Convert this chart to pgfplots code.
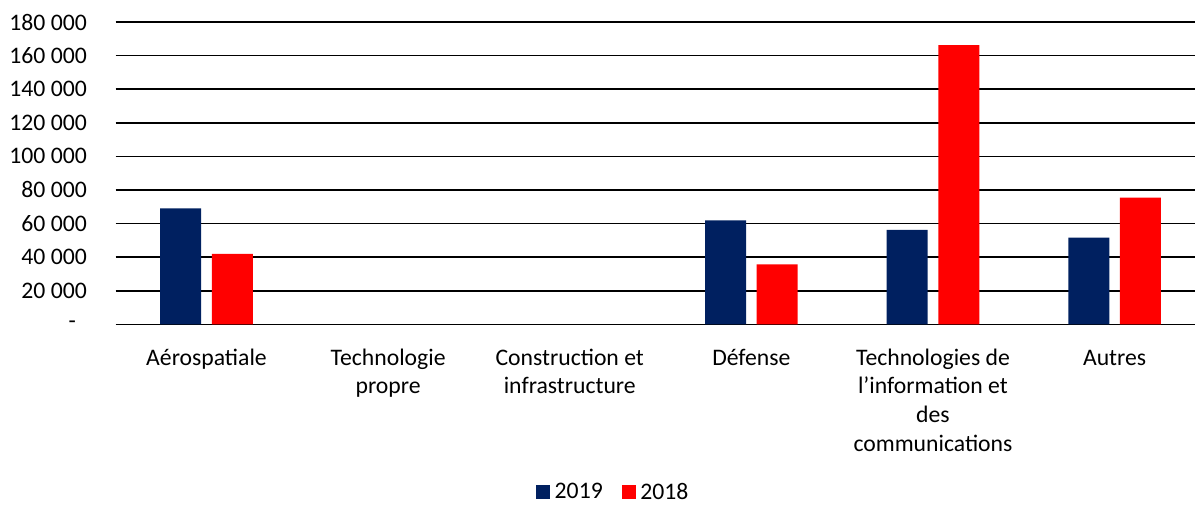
\documentclass[border=0pt]{standalone}
\usepackage{fontspec}
\setmainfont{Carlito}
\usepackage{pgfplots}
\pgfplotsset{compat=1.18}
\definecolor{navy}{HTML}{002060}
\definecolor{rouge}{HTML}{FF0000}
\newcommand{\cf}{\fontsize{23.7bp}{28.7bp}\selectfont}
\begin{document}
\begin{tikzpicture}
\begin{axis}[
  at={(0,0)}, anchor=south west,
  scale only axis, width=1079.3bp, height=302.3bp,
  xmin=-0.5, xmax=5.443, ymin=0, ymax=180000,
  axis line style={draw=none},
  scaled y ticks=false,
  ytick={0,20000,40000,60000,80000,100000,120000,140000,160000,180000},
  yticklabels={-\hspace*{11bp},20 000,40 000,60 000,80 000,100 000,120 000,140 000,160 000,180 000},
  ymajorgrids, grid style={black, line width=1.6bp},
  major tick length=0pt,
  xtick={0,1,2,3,4,5},
  xticklabels={\strut A\'erospatiale,{\strut Technologie\\propre},{\strut Construction et\\infrastructure},\strut D\'efense,{\strut Technologies de\\l’information et\\des\\communications},\strut Autres},
  tick label style={font=\cf},
  yticklabel style={anchor=east, inner sep=0pt, xshift=-28.7bp},
  xticklabel style={anchor=north, align=center, inner sep=0pt, yshift=-20.6bp},
  clip=false,
  legend style={at={(0.4622,-0.5540)}, anchor=center, draw=none, fill=none, font=\cf,
    legend columns=-1, inner sep=0pt,
    nodes={inner xsep=4.3bp, inner ysep=0pt},
    /tikz/every even column/.append style={column sep=15bp}},
]
% categories with no value (Technologie propre, Construction et infrastructure) are 0 and not drawn
\addplot[ybar, bar width=41bp, bar shift=-25.8bp, fill=navy, draw=none,
  legend image code/.code={\fill[navy] (0bp,-7bp) rectangle (14bp,7bp);}]
  coordinates {(0,69100) (3,61900) (4,56200) (5,51600)};
\addlegendentry{2019}
\addplot[ybar, bar width=41bp, bar shift=25.8bp, fill=rouge, draw=none,
  legend image code/.code={\fill[rouge] (0bp,-7bp) rectangle (14bp,7bp);}]
  coordinates {(0,41900) (3,35700) (4,166300) (5,75400)};
\addlegendentry{2018}
\end{axis}
\pgfresetboundingbox
\path[use as bounding box] (-115.7bp,-180.7bp) rectangle (1079.3bp,324.3bp);
\end{tikzpicture}
\end{document}
